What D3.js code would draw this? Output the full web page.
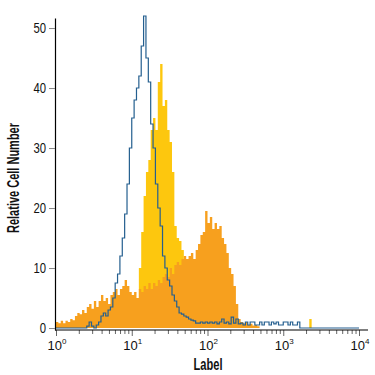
<!DOCTYPE html>
<html>
<head>
<meta charset="utf-8">
<script src="https://cdn.jsdelivr.net/npm/d3@7"></script>
<style>
    body { margin: 0; background: #fff; }
    text { font-family: "Liberation Sans", Arial, sans-serif; }
</style>
</head>
<body>
<div id="chart"></div>
<script>

// histogram bins, 32 channels per decade, channel i starts at 10^(i/32)
const binsPerDecade = 32;

// isotype control (blue outline)
const controlCounts = [
    0, 0, 0, 0, 0, 0, 0, 0, 0, 0, 0, 0, 0, 0.3, 1, 0.3,
    0, 0.5, 1, 2, 2.5, 2, 3, 3.5, 5, 7.5, 9, 12, 15, 19, 24, 30,
    35, 38, 40, 42, 47, 52, 45, 41, 34, 30, 24, 20, 17, 12, 10, 8,
    7, 5.5, 4.5, 3.5, 2.5, 2.3, 2, 1.8, 1.5, 1.3, 1.2, 0.8, 0.8, 1, 0.8, 1,
    0.8, 1, 0.8, 1, 0.7, 1, 1.5, 0.8, 1, 0.7, 1.8, 0.8, 1.5, 0.7, 0.8, 0.5,
    1, 0.5, 1, 1, 0.5, 0.5, 1, 0.5, 1, 1, 0.5, 1, 0.7, 1, 0.5, 0.5,
    1, 1, 0.5, 1, 0.5, 0.5, 1, 0, 0, 0, 0, 0, 0, 0, 0, 0,
    0, 0, 0, 0, 0, 0, 0, 0, 0, 0, 0, 0, 0, 0, 0, 0
];

// unstimulated cells (yellow fill)
const unstimCounts = [
    0, 0, 0, 0, 0, 0, 0, 0, 0, 0, 0, 0, 0, 0, 0, 0,
    0, 0, 0, 0, 0, 0, 0, 0, 0, 0, 0, 0, 0, 0, 0, 0,
    0, 0, 3, 10, 16, 22, 26, 28, 33, 35, 33, 41, 44, 37, 38, 33,
    31, 26, 17, 15, 14.5, 13, 11, 10.5, 6, 3, 0, 0, 0, 0, 0, 0,
    0, 0, 0, 0, 0, 0, 0, 0, 0, 0, 0, 0, 0, 0, 0, 0,
    0, 0, 0, 0, 0, 0, 0, 0, 0, 0, 0, 0, 0, 0, 0, 0,
    0, 0, 0, 0, 0, 0, 0, 0, 0, 0, 0, 1.5, 0, 0, 0, 0,
    0, 0, 0, 0, 0, 0, 0, 0, 0, 0, 0, 0, 0, 0, 0, 0
];

// stimulated cells (orange fill)
const stimCounts = [
    1, 0.8, 1.2, 0.8, 1.2, 1, 1.5, 1.3, 2, 2.5, 2.3, 3, 2.5, 3.5, 4, 3.2,
    4.5, 3.5, 4.5, 5.5, 4.5, 5, 4, 5.5, 6, 6.5, 5.5, 6.5, 7, 8, 7, 6,
    5.5, 6, 5, 6.5, 6, 7, 6.5, 7.5, 6.5, 7.5, 7, 8, 7.5, 8.5, 9, 8.5,
    10, 9, 10.5, 11, 10.5, 11.5, 12, 11.5, 12, 12.5, 11.5, 13, 14, 15.5, 16, 19.5,
    17.5, 18.5, 16.5, 17.5, 16.5, 17, 15, 14, 12.5, 10, 9, 7, 4, 1.5, 1, 0.8,
    1, 0.5, 0.7, 0.4, 0.5, 0.3, 0, 0, 0, 0, 0, 0, 0, 0, 0, 0,
    0, 0, 0, 0, 0, 0, 0, 0, 0, 0, 0, 0, 0, 0, 0, 0,
    0, 0, 0, 0, 0, 0, 0, 0, 0, 0, 0, 0, 0, 0, 0, 0
];

const yTicks = [0, 10, 20, 30, 40, 50];
const xDecades = [0, 1, 2, 3, 4];

// turns a count array into step points [channel value, count]
function toSteps(counts) {
    let pts = counts.map((c, i) => [Math.pow(10, i / binsPerDecade), c]);
    pts.push([Math.pow(10, counts.length / binsPerDecade), counts[counts.length - 1]]);
    return pts;
}

let width = 375, height = 375;

let svg = d3.select("#chart")
    .append('svg')
    .attr('width', width)
    .attr('height', height);

let xScale = d3.scaleLog().domain([1, 10000]).range([56, 359]);
let yScale = d3.scaleLinear().domain([-0.33, 51.67]).range([330, 18]);

let area = d3.area()
    .curve(d3.curveStepAfter)
    .x(d => xScale(d[0]))
    .y0(yScale(0))
    .y1(d => yScale(d[1]));

let line = d3.line()
    .curve(d3.curveStepAfter)
    .x(d => xScale(d[0]))
    .y(d => yScale(d[1]));

// yellow goes behind the orange
svg.append('path')
    .datum(toSteps(unstimCounts))
    .attr('d', area)
    .attr('fill', '#fdc70e');

svg.append('path')
    .datum(toSteps(stimCounts))
    .attr('d', area)
    .attr('fill', '#f7a01e');

svg.append('path')
    .datum(toSteps(controlCounts))
    .attr('d', line)
    .attr('fill', 'none')
    .attr('stroke', '#245f8f')
    .attr('stroke-width', 1.2);

// y axis
let yAxis = svg.append('g')
    .attr('transform', 'translate(55,0)')
    .call(d3.axisLeft(yScale).tickValues(yTicks).tickSize(6).tickSizeOuter(0).tickPadding(3));

yAxis.select('.domain').attr('stroke', '#000').attr('stroke-width', 1.2);
yAxis.selectAll('.tick line').attr('stroke', '#888');
yAxis.selectAll('.tick text')
    .attr('font-size', 15)
    .attr('fill', '#111')
    .attr('textLength', d => String(d).length * 6.3)
    .attr('lengthAdjust', 'spacingAndGlyphs')
    .style('font-family', '"Liberation Sans", Arial, sans-serif');

// x axis, ticks at every 1..9 x 10^n
let xTickVals = [];
xDecades.forEach(p => {
    for (let m = 1; m <= 9; m++) {
        if (p === 4 && m > 1) break;
        xTickVals.push(m * Math.pow(10, p));
    }
});

let xAxisG = svg.append('g')
    .attr('transform', 'translate(0,330)')
    .call(d3.axisBottom(xScale).tickValues(xTickVals).tickFormat('').tickSizeOuter(0));

xAxisG.select('.domain').remove();
xAxisG.selectAll('.tick line')
    .attr('stroke', '#666')
    .attr('y2', d => Number.isInteger(Math.log10(d)) ? 6 : 4);

svg.append('line')
    .attr('x1', 55).attr('x2', 368)
    .attr('y1', 330).attr('y2', 330)
    .attr('stroke', '#000')
    .attr('stroke-width', 1.2);

// decade labels, "10" plus superscript exponent in one text
let xLabels = svg.append('g').selectAll('text')
    .data(xDecades)
    .enter()
    .append('text')
    .attr('x', d => xScale(Math.pow(10, d)) + 1)
    .attr('y', 350)
    .attr('text-anchor', 'middle')
    .attr('font-size', 13)
    .attr('fill', '#111');

xLabels.append('tspan')
    .text('10');

xLabels.append('tspan')
    .attr('dy', -6)
    .attr('font-size', 8)
    .text(d => d);

// axis titles
svg.append('text')
    .attr('x', 208)
    .attr('y', 370)
    .attr('text-anchor', 'middle')
    .attr('font-size', 17)
    .attr('font-weight', 'bold')
    .attr('fill', '#111')
    .attr('textLength', 29)
    .attr('lengthAdjust', 'spacingAndGlyphs')
    .text('Label');

svg.append('text')
    .attr('transform', 'translate(19,178) rotate(-90)')
    .attr('text-anchor', 'middle')
    .attr('font-size', 17)
    .attr('font-weight', 'bold')
    .attr('fill', '#111')
    .attr('textLength', 110)
    .attr('lengthAdjust', 'spacingAndGlyphs')
    .text('Relative Cell Number');

</script>
</body>
</html>
